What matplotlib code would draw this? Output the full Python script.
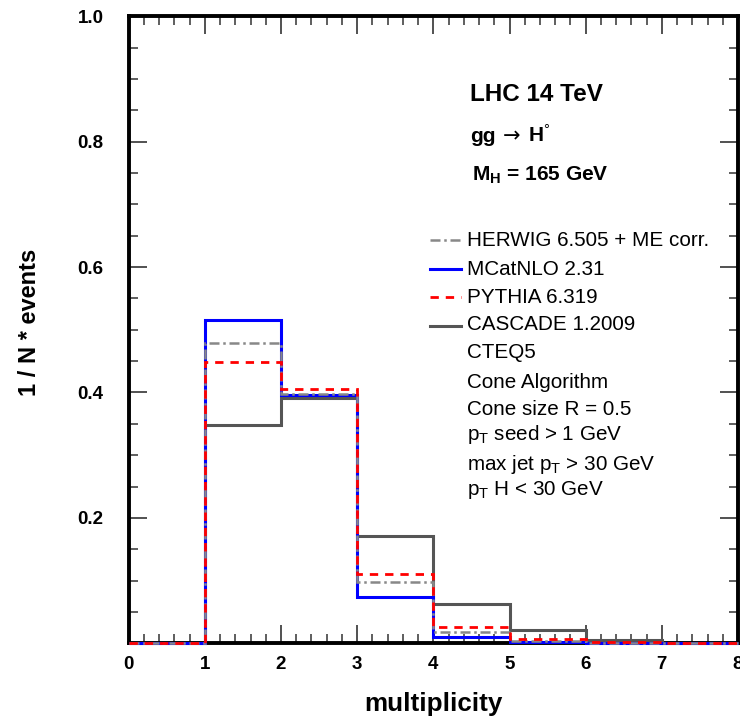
import matplotlib
matplotlib.use("Agg")
import matplotlib.pyplot as plt
from matplotlib.ticker import MultipleLocator, FixedLocator, FixedFormatter

plt.rcParams['font.family'] = ['Liberation Sans', 'DejaVu Sans']
plt.rcParams['mathtext.fontset'] = 'custom'
plt.rcParams['mathtext.rm'] = 'Liberation Sans'
plt.rcParams['mathtext.bf'] = 'Liberation Sans:bold'
plt.rcParams['mathtext.it'] = 'Liberation Sans:italic'

# ---- data ----
edges = [0, 1, 2, 3, 4, 5, 6, 7, 8]
herwig = [0.0, 0.479, 0.397, 0.097, 0.018, 0.004, 0.001, 0.0]
mcatnlo = [0.0, 0.515, 0.396, 0.074, 0.010, 0.002, 0.0005, 0.0]
pythia = [0.0, 0.449, 0.405, 0.111, 0.026, 0.0075, 0.002, 0.0]
cascade = [0.0, 0.348, 0.391, 0.171, 0.062, 0.021, 0.005, 0.0]

series_labels = ["HERWIG 6.505 + ME corr.", "MCatNLO 2.31", "PYTHIA 6.319", "CASCADE 1.2009"]
extra_lines = ["CTEQ5", "Cone Algorithm", "Cone size R = 0.5",
               r"p$_\mathregular{T}$ seed > 1 GeV",
               r"max jet p$_\mathregular{T}$ > 30 GeV",
               r"p$_\mathregular{T}$ H < 30 GeV"]
yticks = [0.2, 0.4, 0.6, 0.8, 1.0]
ytick_labels = ["0.2", "0.4", "0.6", "0.8", "1.0"]
xticks = [0, 1, 2, 3, 4, 5, 6, 7, 8]

W, H = 740, 717
fig = plt.figure(figsize=(W / 100, H / 100), dpi=100)
ax = fig.add_axes([128.7 / W, 1 - 643.3 / H, (738 - 128.7) / W, (643.3 - 16.3) / H])

styles = {
    "cascade": dict(color="#555555", lw=2.2, ls="-"),
    "mcatnlo": dict(color="#0000ff", lw=2.2, ls="-"),
    "herwig": dict(color="#888888", lw=1.8, ls=(0, (4, 1.5, 1, 1.5))),
    "pythia": dict(color="#ff0000", lw=2.0, ls=(0, (3, 2.5))),
}
for vals, key in [(cascade, "cascade"), (mcatnlo, "mcatnlo"), (herwig, "herwig"), (pythia, "pythia")]:
    ax.stairs(vals, edges, zorder=3, clip_on=False, **styles[key])

ax.set_xlim(0, 8)
ax.set_ylim(0, 1.0)
for s in ax.spines.values():
    s.set_linewidth(2.8)
    s.set_zorder(2.5)

ax.xaxis.set_major_locator(FixedLocator(xticks))
ax.xaxis.set_minor_locator(MultipleLocator(0.2))
ax.yaxis.set_major_locator(FixedLocator(yticks))
ax.yaxis.set_major_formatter(FixedFormatter(ytick_labels))
ax.yaxis.set_minor_locator(MultipleLocator(0.05))
ax.tick_params(which='both', direction='in', top=True, right=True, colors='#333333')
ax.tick_params(which='major', length=13, width=1.2)
ax.tick_params(which='minor', length=6.5, width=1.1)
ax.tick_params(axis='y', which='major', pad=18)
ax.tick_params(axis='x', which='major', pad=9)
for lab in ax.get_xticklabels() + ax.get_yticklabels():
    lab.set_fontweight('bold')
    lab.set_fontsize(13.5)
    lab.set_color('black')

def fx(px):
    return px / W

def fy(py):
    return 1 - py / H

fig.text(fx(433), fy(711), "multiplicity", fontsize=18.7, fontweight='bold',
         ha='center', va='baseline')
fig.text(fx(30), fy(322), "1 / N * events", fontsize=17, fontweight='bold',
         ha='center', va='center', rotation=90)

# header texts
fig.text(fx(470), fy(100.7), "LHC 14 TeV", fontsize=17.5, fontweight='bold', va='baseline')
fig.text(fx(470.5), fy(141.7), "gg", fontsize=15, fontweight='bold', va='baseline')
fig.text(fx(511.5), fy(136.5), "\u2192", fontsize=15, family=['DejaVu Sans'],
         ha='center', va='center')
fig.text(fx(528.5), fy(141.7), "H$^{\u00b0}$", fontsize=15, fontweight='bold', va='baseline')
fig.text(fx(471.5), fy(180.7), r"M$_\mathbf{H}$ = 165 GeV", fontsize=15, fontweight='bold', va='baseline')

# legend
legend_keys = ["herwig", "mcatnlo", "pythia", "cascade"]
handle_y = [240, 269, 297.5, 325.5]
text_base = [246, 275, 303, 330]
for hy, tb, key, lab in zip(handle_y, text_base, legend_keys, series_labels):
    fig.add_artist(plt.Line2D([fx(430), fx(461)], [fy(hy), fy(hy)], transform=fig.transFigure, **styles[key]))
    fig.text(fx(467), fy(tb), lab, fontsize=14.9, va='baseline')
extra_base = [358, 388, 415, 440, 470, 495]
for tb, lab in zip(extra_base, extra_lines):
    fig.text(fx(467), fy(tb), lab, fontsize=14.9, va='baseline')

fig.savefig("out.png", dpi=100)
